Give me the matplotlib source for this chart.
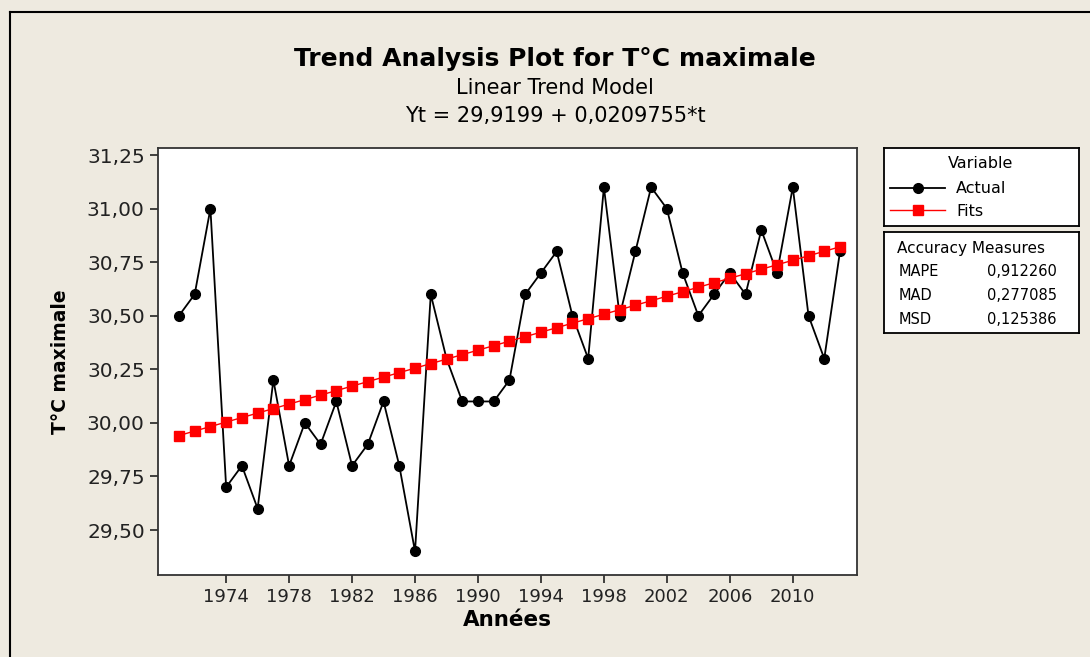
import matplotlib
matplotlib.use("Agg")
import matplotlib.pyplot as plt
import matplotlib.ticker as mticker

BG = "#eeeae0"

years = list(range(1971, 2014))
actual = [
    30.5, 30.6, 31.0, 29.7, 29.8, 29.6, 30.2, 29.8, 30.0, 29.9,
    30.1, 29.8, 29.9, 30.1, 29.8, 29.4, 30.6, 30.3, 30.1, 30.1,
    30.1, 30.2, 30.6, 30.7, 30.8, 30.5, 30.3, 31.1, 30.5, 30.8,
    31.1, 31.0, 30.7, 30.5, 30.6, 30.7, 30.6, 30.9, 30.7, 31.1,
    30.5, 30.3, 30.8,
]
intercept = 29.9199
slope = 0.0209755
fits = [intercept + slope * t for t in range(1, len(years) + 1)]

x_ticks = list(range(1974, 2011, 4))
y_ticks = [29.50, 29.75, 30.00, 30.25, 30.50, 30.75, 31.00, 31.25]

measure_names = ["MAPE", "MAD", "MSD"]
measure_values = ["0,912260", "0,277085", "0,125386"]

W, H = 1090, 657
plt.rcParams["font.family"] = ["DejaVu Sans"]
fig = plt.figure(figsize=(W / 100, H / 100), dpi=100, facecolor=BG)


def fbox(x0, y0, x1, y1):
    # pixel box (top-left origin) -> figure fraction rect
    return [x0 / W, 1 - y1 / H, (x1 - x0) / W, (y1 - y0) / H]


# outer frame lines of the screenshot
fig.add_artist(plt.Line2D([10 / W, 10 / W], [0, 1 - 12 / H], color="black", lw=1.5))
fig.add_artist(plt.Line2D([10 / W, 1], [1 - 12 / H, 1 - 12 / H], color="black", lw=1.5))

ax = fig.add_axes(fbox(158, 148, 857, 575))
ax.set_facecolor("white")
ax.plot(years, actual, color="black", lw=1.3, marker="o", ms=7,
        label="Actual", zorder=3)
ax.plot(years, fits, color="red", lw=1.0, marker="s", ms=7,
        label="Fits", zorder=4)

ax.set_xlim(1969.67, 2014.08)
ax.set_ylim(29.29, 31.283)
ax.set_xticks(x_ticks)
ax.set_yticks(y_ticks)
ax.yaxis.set_major_formatter(
    mticker.FuncFormatter(lambda v, p: f"{v:.2f}".replace(".", ","))
)
ax.tick_params(direction="out", length=6, width=1.2, colors="#222222")
ax.tick_params(axis="x", labelsize=13)
ax.tick_params(axis="y", labelsize=14.5)
for s in ax.spines.values():
    s.set_color("#333333")
    s.set_linewidth(1.3)

ax.set_xlabel("Années", fontsize=15.5, fontweight="bold", labelpad=3)
ax.set_ylabel("T°C maximale", fontsize=13.5, fontweight="bold", labelpad=12)

fig.text(555 / W, 1 - 59 / H, "Trend Analysis Plot for T°C maximale",
         ha="center", va="center", fontsize=18, fontweight="bold")
fig.text(555 / W, 1 - 88 / H, "Linear Trend Model",
         ha="center", va="center", fontsize=15)
fig.text(555 / W, 1 - 116 / H,
         f"Yt = {intercept:.4f} + {slope:.7f}*t".replace(".", ","),
         ha="center", va="center", fontsize=15)

# legend box
lax = fig.add_axes(fbox(884, 148, 1079, 226))
lax.set_xticks([])
lax.set_yticks([])
lax.set_facecolor("white")
for s in lax.spines.values():
    s.set_linewidth(1.3)
lax.text(97 / 195, 1 - 16 / 78, "Variable", fontsize=11.5,
         ha="center", va="center", transform=lax.transAxes)
leg = lax.legend(handles=ax.get_lines(), labels=["Actual", "Fits"],
                 loc="upper left", bbox_to_anchor=(0.0, 1 - 27 / 78),
                 fontsize=11.5, frameon=False, borderpad=0,
                 labelspacing=0.45, handlelength=3.4, handletextpad=0.7,
                 borderaxespad=0.4)

# accuracy measures box
bx = fig.add_axes(fbox(884, 232, 1079, 333))
bx.set_xticks([])
bx.set_yticks([])
bx.set_facecolor("white")
for s in bx.spines.values():
    s.set_linewidth(1.3)
bx.set_xlim(0, 195)
bx.set_ylim(101, 0)
bx.text(13, 17, "Accuracy Measures", fontsize=11, va="center")
for i, (name, val) in enumerate(zip(measure_names, measure_values)):
    y = 40 + 24 * i
    bx.text(15, y, name, fontsize=10.5, va="center")
    bx.text(103, y, val, fontsize=10.5, va="center")

fig.savefig("out.png", dpi=100, facecolor=BG)
